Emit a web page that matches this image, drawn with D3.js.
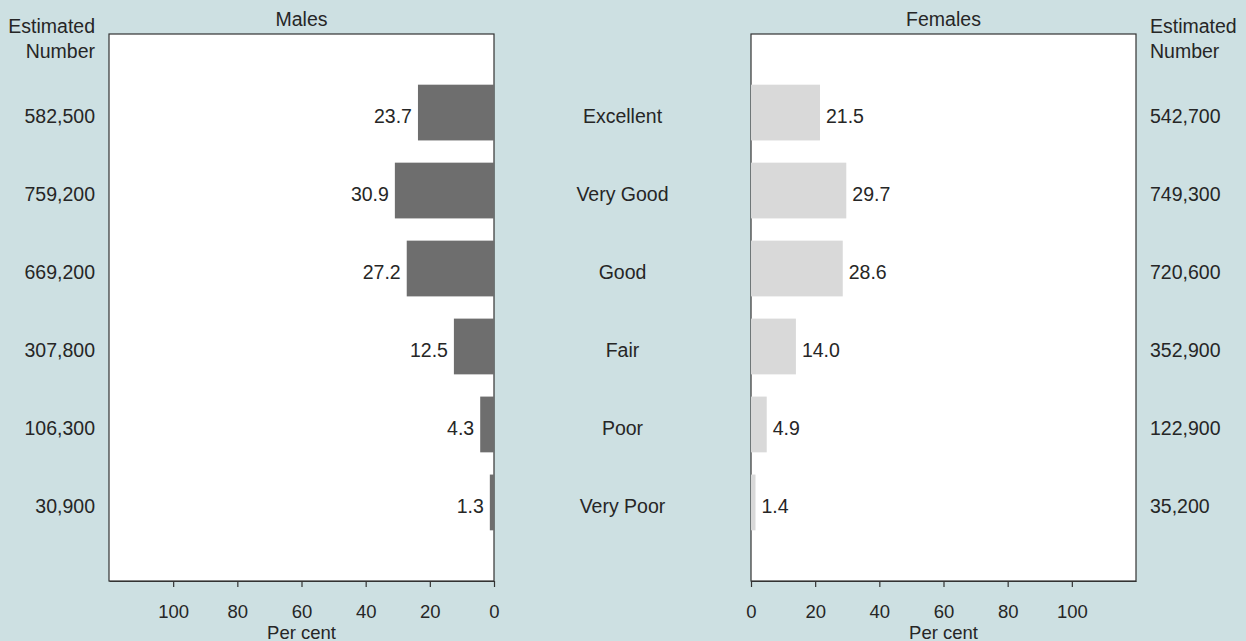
<!DOCTYPE html>
<html><head><meta charset="utf-8">
<script src="https://cdn.jsdelivr.net/npm/d3@7"></script>
<style>
html,body{margin:0;padding:0;background:#cde0e2;}
svg{display:block;font-family:"Liberation Sans",Arial,Helvetica,sans-serif;}
</style></head>
<body>
<svg id="chart" width="1246" height="641"></svg>
<script>
const categories = ["Excellent","Very Good","Good","Fair","Poor","Very Poor"];
const malePct = [23.7,30.9,27.2,12.5,4.3,1.3];
const femalePct = [21.5,29.7,28.6,14.0,4.9,1.4];
const maleNum = ["582,500","759,200","669,200","307,800","106,300","30,900"];
const femaleNum = ["542,700","749,300","720,600","352,900","122,900","35,200"];
const tickValues = [0,20,40,60,80,100];

(function(){
const svg = d3.select("#chart");
const W = 1246, H = 641;
svg.append("rect").attr("width",W).attr("height",H).attr("fill","#cde0e2");

const pTop = 34, pBottom = 581;
const leftPanel = [109, 494], rightPanel = [751, 1136];
const fontSize = 19.5, smallFont = 18, txt = "#262626";

const y = d3.scaleBand().domain(categories).range([pTop,pBottom]).paddingInner(0.285).paddingOuter(0.65);
const xM = d3.scaleLinear().domain([120,0]).range(leftPanel);
const xF = d3.scaleLinear().domain([0,120]).range(rightPanel);

function panel(x0,x1){
  svg.append("rect").attr("x",x0).attr("y",pTop).attr("width",x1-x0).attr("height",pBottom-pTop)
    .attr("fill","#fff").attr("stroke","#333").attr("stroke-width",1.2);
}
panel(leftPanel[0],leftPanel[1]);
panel(rightPanel[0],rightPanel[1]);

svg.append("g").selectAll("rect").data(categories).join("rect")
  .attr("x",(d,i)=>xM(malePct[i])).attr("width",(d,i)=>xM(0)-xM(malePct[i]))
  .attr("y",d=>y(d)).attr("height",y.bandwidth()).attr("fill","#6e6e6e");
svg.append("g").selectAll("rect").data(categories).join("rect")
  .attr("x",xF(0)).attr("width",(d,i)=>xF(femalePct[i])-xF(0))
  .attr("y",d=>y(d)).attr("height",y.bandwidth()).attr("fill","#d9d9d9");

const base = d => y(d)+y.bandwidth()/2+10.3;
function label(g, data, xf, anchor){
  g.selectAll("text").data(data).join("text")
   .attr("x",xf).attr("y",(d,i)=>base(categories[i]))
   .attr("text-anchor",anchor).attr("font-size",fontSize).attr("fill",txt).text(d=>d);
}
label(svg.append("g"), malePct.map(v=>v.toFixed(1)), (d,i)=>xM(malePct[i])-6, "end");
label(svg.append("g"), femalePct.map(v=>v.toFixed(1)), (d,i)=>xF(femalePct[i])+6, "start");
label(svg.append("g"), categories, 622.5, "middle");
label(svg.append("g"), maleNum, 95, "end");
label(svg.append("g"), femaleNum, 1150, "start");

function t(x,yy,s,anchor,fs){svg.append("text").attr("x",x).attr("y",yy).attr("text-anchor",anchor)
  .attr("font-size",fs||fontSize).attr("fill",txt).text(s);}
t(95,33,"Estimated","end"); t(95,58,"Number","end");
t(1150,33,"Estimated","start"); t(1150,58,"Number","start");
t((leftPanel[0]+leftPanel[1])/2,26,"Males","middle");
t((rightPanel[0]+rightPanel[1])/2,26,"Females","middle");
t((leftPanel[0]+leftPanel[1])/2,638.5,"Per cent","middle",smallFont+0.5);
t((rightPanel[0]+rightPanel[1])/2,638.5,"Per cent","middle",smallFont+0.5);

function axis(scale){
  const g = svg.append("g").attr("transform",`translate(0,${pBottom})`)
    .call(d3.axisBottom(scale).tickValues(tickValues).tickSize(6).tickSizeOuter(0).tickPadding(19));
  g.select(".domain").attr("stroke","#333").attr("stroke-width",1.2);
  g.selectAll(".tick line").attr("stroke","#333").attr("stroke-width",1.2);
  g.selectAll(".tick text").attr("font-size",smallFont+0.5).attr("fill",txt).attr("font-family",null).attr("dy",null).attr("y",37);
}
axis(xM); axis(xF);
})();
</script>
</body></html>
